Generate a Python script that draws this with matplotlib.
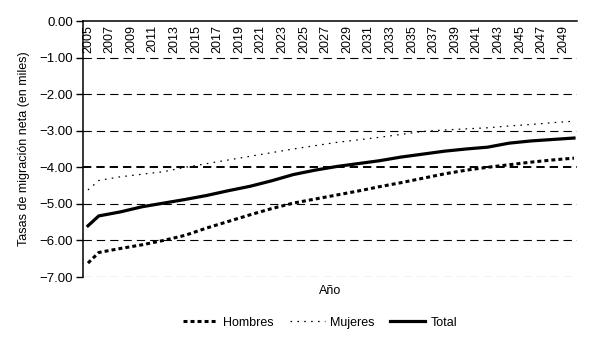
import matplotlib

matplotlib.use("Agg")
import matplotlib.pyplot as plt
from matplotlib.ticker import FuncFormatter

plt.rcParams["font.family"] = ["Liberation Sans", "DejaVu Sans"]

# values (thousands)
years = [2005, 2006, 2008, 2010, 2012, 2014, 2016, 2018, 2020, 2022, 2024, 2026,
         2028, 2030, 2032, 2034, 2036, 2038, 2040, 2042, 2044, 2046, 2048, 2050]
hombres = [-6.62, -6.33, -6.22, -6.12, -6.00, -5.86, -5.66, -5.48, -5.30, -5.13, -4.98, -4.87,
           -4.76, -4.65, -4.53, -4.42, -4.30, -4.18, -4.08, -4.00, -3.93, -3.86, -3.80, -3.75]
mujeres = [-4.62, -4.36, -4.26, -4.19, -4.12, -4.00, -3.90, -3.80, -3.70, -3.60, -3.50, -3.41,
           -3.32, -3.25, -3.18, -3.10, -3.02, -2.98, -2.95, -2.92, -2.87, -2.83, -2.78, -2.74]
total = [-5.60, -5.33, -5.22, -5.08, -4.98, -4.88, -4.77, -4.64, -4.52, -4.37, -4.20, -4.08,
         -3.98, -3.90, -3.82, -3.72, -3.64, -3.56, -3.50, -3.45, -3.34, -3.28, -3.24, -3.20]

year_ticks = list(range(2005, 2050, 2))
y_ticks = [0, -1, -2, -3, -4, -5, -6, -7]

fig = plt.figure(figsize=(5.97, 3.54), dpi=100)
ax = fig.add_axes([83 / 597, 77 / 354, 494 / 597, 256 / 354])

ax.plot(years, hombres, color="black", linewidth=2.2, dashes=(1.3, 1.0), label="Hombres")
ax.plot(years, mujeres, color="black", linewidth=0.9, dashes=(1.3, 4.2), label="Mujeres")
ax.plot(years, total, color="black", linewidth=2.3, label="Total")

ax.set_xlim(2004.54, 2050.28)
ax.set_ylim(-7, 0)
ax.set_yticks(y_ticks)
ax.yaxis.set_major_formatter(FuncFormatter(lambda v, _: f"{v:.2f}".replace("-", "\u2212")))
ax.tick_params(axis="y", direction="out", length=5, width=1, pad=2, labelsize=9.5)

# dashed gridlines; the -4 one is drawn heavier in the original
ax.grid(axis="y", color="black", linewidth=0.8, linestyle=(0, (7.5, 4.5)))
for val, gl in zip(ax.get_yticks(), ax.get_ygridlines()):
    if val == 0:
        gl.set_visible(False)
    if val == -4:
        gl.set_linewidth(1.4)
        gl.set_linestyle((0, (7.5 * 0.8 / 1.4, 4.5 * 0.8 / 1.4)))

# year labels inside the plot, under the top spine
ax.set_xticks(year_ticks)
ax.set_xticklabels([str(y) for y in year_ticks], rotation=90, fontsize=9)
ax.xaxis.set_ticks_position("top")
ax.tick_params(axis="x", length=0, pad=-3)
for lab in ax.get_xticklabels():
    lab.set_va("top")

for side in ["right", "bottom"]:
    ax.spines[side].set_visible(False)
for side in ["left", "top"]:
    ax.spines[side].set_linewidth(1.1)

ax.xaxis.set_label_position("bottom")
ax.set_xlabel("Año", fontsize=9, labelpad=6)
ax.set_ylabel("Tasas de migración neta (en miles)", fontsize=9, labelpad=7)

fig.legend(loc="center", bbox_to_anchor=(0.536, 0.088), ncol=3, frameon=False,
           fontsize=9, handlelength=2.8, columnspacing=1.3, handletextpad=0.4)

fig.savefig("out.png", dpi=100)
